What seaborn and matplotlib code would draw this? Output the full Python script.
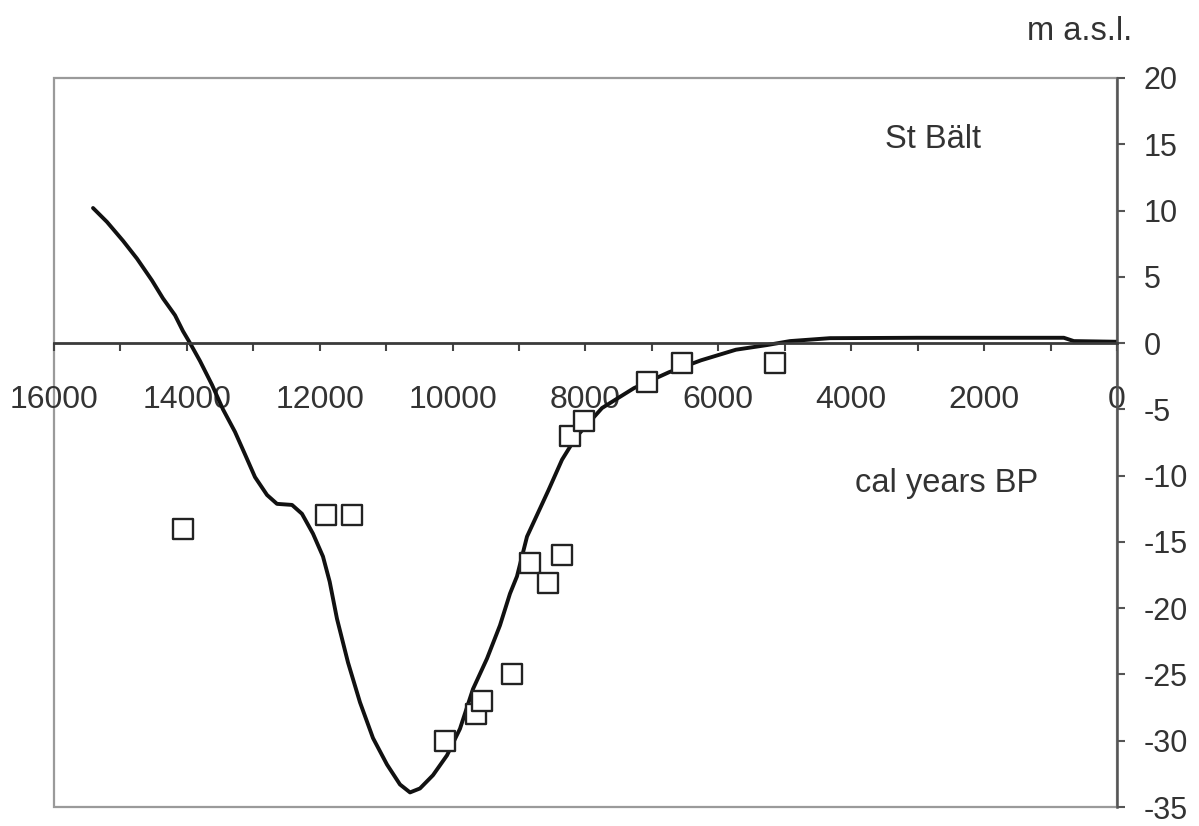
import matplotlib
matplotlib.use("Agg")
import matplotlib.pyplot as plt
from matplotlib.ticker import MultipleLocator, FuncFormatter
import seaborn as sns

# ---- data ----
curve_age = [15412, 15202, 14961, 14750, 14524, 14359, 14178, 14058, 13952, 13802,
             13621, 13456, 13275, 13125, 12974, 12793, 12643, 12417, 12267, 12101,
             11951, 11850, 11740, 11574, 11394, 11198, 10987, 10792, 10641, 10491,
             10295, 10084, 9889, 9693, 9482, 9287, 9136, 9031, 8880, 8557,
             8353, 8143, 7751, 7270, 6743, 6261, 5735, 5268, 4922, 4320,
             3000, 2000, 800, 650, 0]
curve_level = [10.19, 9.14, 7.72, 6.37, 4.72, 3.37, 2.10, 0.90, 0.0, -1.35,
               -3.15, -5.0, -6.7, -8.39, -10.11, -11.46, -12.13, -12.21, -12.88, -14.38,
               -16.10, -18.0, -20.8, -24.1, -27.1, -29.8, -31.8, -33.3, -33.9, -33.6,
               -32.6, -31.1, -29.1, -26.1, -23.8, -21.3, -18.9, -17.6, -14.6, -11.1,
               -8.8, -7.1, -4.9, -3.4, -2.2, -1.3, -0.5, -0.15, 0.15, 0.37,
               0.4, 0.4, 0.4, 0.15, 0.1]

obs_age = [14060, 11900, 11520, 10120, 9650, 9560, 9110, 8830, 8560, 8350,
           8240, 8015, 7080, 6550, 5150]
obs_level = [-14.0, -13.0, -13.0, -30.0, -28.0, -27.0, -25.0, -16.6, -18.1, -16.0,
             -7.0, -5.9, -2.9, -1.5, -1.5]

x_ticks_major = 2000
x_ticks_minor = 1000
y_tick_step = 5
title_text = "St Bält"
x_label_text = "cal years BP"
y_label_text = "m a.s.l."

# ---- style ----
sns.set_theme(style="white")
plt.rcParams['font.family'] = ['Liberation Sans', 'DejaVu Sans']
plt.rcParams['axes.unicode_minus'] = False

fig = plt.figure(figsize=(11.99, 8.26), dpi=100)
ax = fig.add_axes([0.0450, 0.0230, 0.8866, 0.8826])

sns.lineplot(x=curve_age, y=curve_level, ax=ax, color='#111111', linewidth=2.8,
             sort=False, estimator=None, zorder=2)
sns.scatterplot(x=obs_age, y=obs_level, ax=ax, marker='s', s=215,
                facecolor='white', edgecolor='#222222', linewidth=1.7, zorder=3)

ax.set_xlim(16000, 0)
ax.set_ylim(-35, 20)

# frame
ax.patch.set_edgecolor('#9a9a9a')
ax.patch.set_linewidth(1.6)
ax.spines['left'].set_visible(False)
ax.spines['top'].set_visible(False)
ax.spines['bottom'].set_position(('data', 0))
ax.spines['bottom'].set_color('#3a3a3a')
ax.spines['bottom'].set_linewidth(2.0)
ax.spines['right'].set_color('#555555')
ax.spines['right'].set_linewidth(1.8)

# x axis on zero line
ax.xaxis.set_major_locator(MultipleLocator(x_ticks_major))
ax.xaxis.set_minor_locator(MultipleLocator(x_ticks_minor))
ax.xaxis.set_major_formatter(FuncFormatter(lambda v, p: f"{int(round(v))}"))
ax.tick_params(axis='x', which='both', direction='out', length=6, width=1.5,
               color='#444444', bottom=True)
ax.tick_params(axis='x', which='major', pad=24, labelsize=23, labelcolor='#333333')

# y axis on right
ax.yaxis.tick_right()
ax.yaxis.set_major_locator(MultipleLocator(y_tick_step))
ax.yaxis.set_major_formatter(FuncFormatter(lambda v, p: f"{int(round(v))}"))
ax.tick_params(axis='y', which='major', direction='out', length=6, width=1.5,
               color='#555555', pad=13, labelsize=22, labelcolor='#333333',
               left=False, right=True)

ax.grid(False)

ax.text(3490, 14.75, title_text, fontsize=23.5, color='#333333', ha='left', va='baseline')
ax.text(3950, -11.2, x_label_text, fontsize=23.5, color='#333333', ha='left', va='baseline')
ax.text(1355, 22.85, y_label_text, fontsize=23.5, color='#333333', ha='left',
        va='baseline', clip_on=False)

fig.savefig("out.png", dpi=100)
